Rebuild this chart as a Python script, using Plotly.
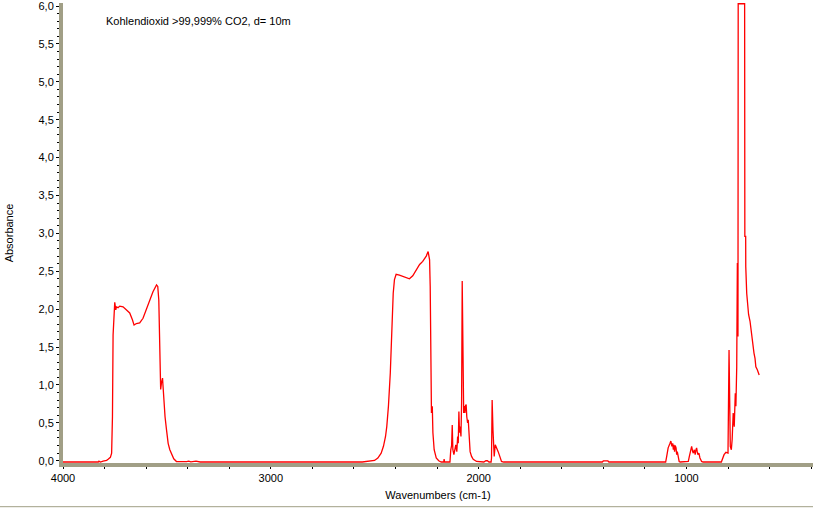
import plotly.graph_objects as go

wavenumbers = [
    4000, 3880, 3830, 3827, 3820, 3807, 3790, 3783, 3772, 3766, 3762, 3759, 3751, 3746, 3743, 3735,
    3727, 3711, 3695, 3679, 3666, 3658, 3647, 3631, 3615, 3598, 3583, 3567, 3550, 3544, 3539,
    3536, 3533, 3530, 3526, 3521, 3519, 3515, 3509, 3502, 3494, 3486, 3477, 3467, 3454, 3420,
    3405, 3395, 3385, 3360, 3350, 3340, 2560, 2525, 2501, 2485, 2469, 2458, 2448, 2442, 2434,
    2425, 2418, 2411, 2405, 2397, 2381, 2365, 2348, 2333, 2317, 2300, 2284, 2269, 2252, 2243,
    2236, 2233, 2230, 2227, 2223, 2220, 2214, 2204, 2192, 2180, 2168, 2166, 2164, 2138, 2134,
    2130, 2127, 2124, 2119, 2114, 2110, 2105, 2101, 2098, 2095, 2092, 2089, 2085, 2082, 2079,
    2076, 2072, 2070, 2066, 2063, 2060, 2057, 2053, 2050, 2047, 2044, 2041, 2034, 2026, 2010,
    1975, 1965, 1958, 1950, 1940, 1938, 1935, 1931, 1928, 1925, 1920, 1916, 1911, 1906, 1901,
    1896, 1890, 1880, 1405, 1400, 1378, 1373, 1100, 1095, 1088, 1079, 1075, 1070, 1066, 1063,
    1060, 1057, 1054, 1050, 1047, 1044, 1039, 1035, 1030, 995, 991, 986, 980, 975, 970, 967,
    962, 958, 954, 951, 948, 945, 940, 935, 927, 920, 832, 826, 819, 810, 800, 795, 792, 789,
    784, 780, 775, 770, 765, 762, 758, 755, 752, 751, 720, 719, 715, 714.5, 710, 707, 701, 694,
    690, 685, 680, 675, 670, 666, 659, 653, 650,
]
absorbance = [
    -0.017, -0.017, -0.017, -0.005, -0.017, -0.005, 0.005, 0.02, 0.045, 0.10, 0.58, 1.66, 2.09, 1.99, 2.03, 2.02,
    2.04, 2.03, 1.99, 1.95, 1.86, 1.79, 1.81, 1.82, 1.88, 2.01, 2.12, 2.23, 2.32, 2.30, 2.12,
    1.73, 1.20, 0.94, 1.03, 1.09, 1.00, 0.76, 0.58, 0.41, 0.23, 0.145, 0.08, 0.026, -0.01, -0.017,
    -0.012, -0.005, -0.015, -0.005, -0.012, -0.017, -0.017, -0.01, 0.004, 0.036, 0.10, 0.19, 0.32, 0.45, 0.72,
    1.16, 1.86, 2.21, 2.39, 2.46, 2.45, 2.43, 2.41, 2.40, 2.44, 2.52, 2.59, 2.63, 2.70, 2.76,
    2.65, 2.30, 1.11, 0.63, 0.72, 0.37, 0.145, 0.036, 0.0, -0.017, -0.017, 0.02, -0.017, -0.017, 0.145,
    0.20, 0.47, 0.145, 0.08, 0.145, 0.21, 0.12, 0.32, 0.23, 0.65, 0.37, 0.45, 0.32, 0.76, 2.37,
    1.42, 0.63, 0.72, 0.63, 0.73, 0.74, 0.58, 0.50, 0.54, 0.37, 0.23, 0.12, 0.057, 0.02, -0.01,
    -0.017, 0.0, 0.0, -0.017, -0.017, 0.036, 0.80, 0.41, 0.23, 0.057, 0.21, 0.19, 0.145, 0.12, 0.08,
    0.036, -0.01, -0.017, -0.017, -0.003, -0.003, -0.017, -0.017, 0.057, 0.17, 0.23, 0.26, 0.19, 0.23, 0.145,
    0.21, 0.12, 0.20, 0.17, 0.08, 0.12, 0.036, -0.01, -0.017, -0.017, -0.01, 0.057, 0.145, 0.19, 0.12, 0.10,
    0.145, 0.08, 0.145, 0.17, 0.12, 0.08, 0.10, 0.036, -0.01, -0.017, -0.017, 0.036, 0.08, 0.11, 0.10, 1.46, 0.80, 0.19,
    0.145, 0.28, 0.63, 0.45, 0.89, 0.72, 1.24, 2.61, 1.64, 6.03, 6.03, 2.96, 2.96, 2.56, 2.21, 2.06, 1.93, 1.84,
    1.75, 1.57, 1.49, 1.42, 1.35, 1.24, 1.20, 1.16, 1.13,
]

x_tick_vals = [4000, 3000, 2000, 1000]
x_tick_text = ["4000", "3000", "2000", "1000"]
title_text = "Kohlendioxid >99,999% CO2, d= 10m"
x_title = "Wavenumbers (cm-1)"
y_title = "Absorbance"

AXIS_COL = "#a19f86"
FONT = "Liberation Sans"

fig = go.Figure()
fig.add_trace(go.Scatter(
    x=wavenumbers, y=absorbance, mode="lines",
    line=dict(color="#ff0000", width=1.3),
    hoverinfo="skip", showlegend=False,
))

fig.update_layout(
    width=813, height=508,
    margin=dict(l=63, r=0, t=3, b=45),
    paper_bgcolor="white", plot_bgcolor="white",
    separators=",.",
    font=dict(family=FONT, size=11, color="black"),
    xaxis=dict(
        range=[4000, 391], showgrid=False, zeroline=False, automargin=False,
        showline=True, linecolor=AXIS_COL, linewidth=4,
        tickmode="array", tickvals=x_tick_vals, ticktext=x_tick_text,
        ticks="outside", ticklen=2, tickcolor="black", tickwidth=1,
        minor=dict(dtick=200, tick0=0, ticks="outside", ticklen=2, tickcolor="black", tickwidth=1, showgrid=False),
        tickfont=dict(family=FONT, size=11),
        title=dict(text=x_title, font=dict(family=FONT, size=11), standoff=9),
    ),
    yaxis=dict(
        range=[-0.03, 6.04], showgrid=False, zeroline=False, automargin=False,
        showline=True, linecolor=AXIS_COL, linewidth=4,
        dtick=0.5, tick0=0, tickformat=".1f", ticklabeloverflow="allow",
        ticks="outside", ticklen=3, tickcolor="black", tickwidth=1,
        minor=dict(dtick=0.1, tick0=0, ticks="outside", ticklen=2, tickcolor="black", tickwidth=1, showgrid=False),
        tickfont=dict(family=FONT, size=11),
        title=dict(text=y_title, font=dict(family=FONT, size=11), standoff=24),
    ),
    annotations=[dict(
        text=title_text, xref="paper", yref="paper", x=0.054, y=0.961,
        xanchor="left", yanchor="middle", showarrow=False,
        font=dict(family=FONT, size=11, color="black"),
    )],
    shapes=[dict(
        type="line", xref="paper", yref="paper", x0=-0.09, x1=1.0, y0=-0.095, y1=-0.095,
        line=dict(color=AXIS_COL, width=1),
    )],
)

fig.write_html(
    "out.html",
    config={"displayModeBar": False},
    post_script="document.body.style.margin='0';document.body.style.overflow='hidden';",
)
